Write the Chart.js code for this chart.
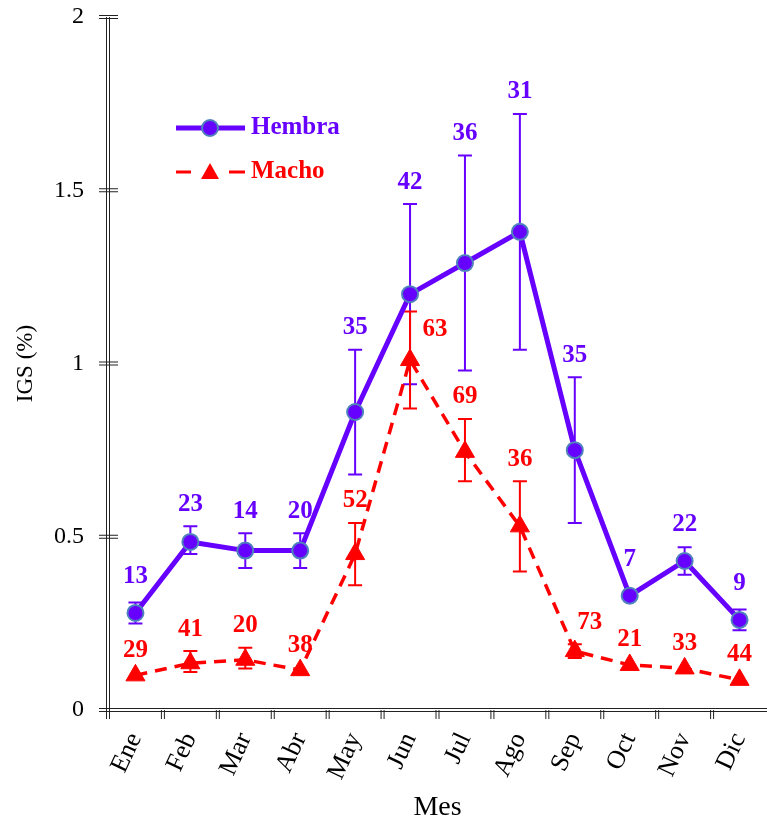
<!DOCTYPE html>
<html>
<head>
<meta charset="utf-8">
<script src="https://cdn.jsdelivr.net/npm/chart.js@4.4.0/dist/chart.umd.min.js"></script>
<style>
  html, body { margin: 0; padding: 0; background: #fff; }
  #wrap { width: 767px; height: 824px; }
</style>
</head>
<body>
<div id="wrap"><canvas id="igsChart" width="767" height="824"></canvas></div>
<script>
const meses = ['Ene', 'Feb', 'Mar', 'Abr', 'May', 'Jun', 'Jul', 'Ago', 'Sep', 'Oct', 'Nov', 'Dic'];
const yTicks = [0, 0.5, 1, 1.5, 2];

const hembra    = [0.28, 0.485, 0.46, 0.46, 0.86, 1.20, 1.29, 1.38, 0.75, 0.33, 0.43, 0.26];
const hembraMin = [0.25, 0.45, 0.41, 0.41, 0.68, 0.94, 0.98, 1.04, 0.54, null, 0.39, 0.23];
const hembraMax = [0.31, 0.53, 0.51, 0.51, 1.04, 1.46, 1.60, 1.72, 0.96, null, 0.47, 0.29];
const hembraN   = [13, 23, 14, 20, 35, 42, 36, 31, 35, 7, 22, 9];

const macho    = [0.10, 0.135, 0.145, 0.115, 0.45, 1.01, 0.745, 0.53, 0.17, 0.13, 0.12, 0.087];
const machoMin = [null, 0.11, 0.12, null, 0.36, 0.87, 0.66, 0.40, 0.15, null, null, null];
const machoMax = [null, 0.17, 0.18, null, 0.54, 1.15, 0.84, 0.66, 0.19, null, null, null];
const machoN   = [29, 41, 20, 38, 52, 63, 69, 36, 73, 21, 33, 44];

const MORADO = '#6600ff';
const ROJO = '#ff0000';
const SERIF = '"Liberation Serif", "Times New Roman", serif';

Chart.defaults.font.family = SERIF;
Chart.defaults.color = '#000';

// barras de error, debajo de los marcadores
const barrasError = {
    id: 'barrasError',
    beforeDatasetsDraw(chart) {
        const ctx = chart.ctx;
        const y = chart.scales.y;
        chart.data.datasets.forEach((ds, d) => {
            const meta = chart.getDatasetMeta(d);
            ctx.save();
            ctx.strokeStyle = ds.borderColor;
            ctx.lineWidth = 2;
            meta.data.forEach((pt, i) => {
                if (ds.errMin[i] == null) return;
                const y1 = y.getPixelForValue(ds.errMin[i]);
                const y2 = y.getPixelForValue(ds.errMax[i]);
                ctx.beginPath();
                ctx.moveTo(pt.x, y1); ctx.lineTo(pt.x, y2);
                ctx.moveTo(pt.x - 7, y1); ctx.lineTo(pt.x + 7, y1);
                ctx.moveTo(pt.x - 7, y2); ctx.lineTo(pt.x + 7, y2);
                ctx.stroke();
            });
            ctx.restore();
        });
    }
};

// numero de individuos encima de cada punto
const etiquetasN = {
    id: 'etiquetasN',
    afterDatasetsDraw(chart) {
        const ctx = chart.ctx;
        const y = chart.scales.y;
        const desplaz = { 1: { 5: { dx: 25, dy: -30 }, 8: { dx: 15 } } };
        chart.data.datasets.forEach((ds, d) => {
            const meta = chart.getDatasetMeta(d);
            const r = d === 0 ? 14 : 3;
            ctx.save();
            ctx.fillStyle = ds.borderColor;
            ctx.font = 'bold 25px ' + SERIF;
            ctx.textAlign = 'center';
            ctx.textBaseline = 'middle';
            meta.data.forEach((pt, i) => {
                let top = pt.y - r;
                if (ds.errMax[i] != null) top = Math.min(top, y.getPixelForValue(ds.errMax[i]));
                let ly = top - 22;
                let lx = pt.x;
                const s = desplaz[d] && desplaz[d][i];
                if (s) {
                    lx += s.dx;
                    if (s.dy != null) ly = pt.y + s.dy;
                }
                ctx.fillText(String(ds.nums[i]), lx, ly);
            });
            ctx.restore();
        });
    }
};

// ejes con linea doble
const ejesDobles = {
    id: 'ejesDobles',
    afterDraw(chart) {
        const ctx = chart.ctx;
        const a = chart.chartArea;
        const x = chart.scales.x;
        const y = chart.scales.y;
        ctx.save();
        ctx.strokeStyle = '#222';
        ctx.lineWidth = 1;
        ctx.beginPath();
        [-1.5, 1.5].forEach(o => {
            ctx.moveTo(a.left + o, a.top);
            ctx.lineTo(a.left + o, a.bottom + 9);
            ctx.moveTo(a.left - 9, a.bottom + o);
            ctx.lineTo(a.right, a.bottom + o);
        });
        y.ticks.forEach((t, i) => {
            const py = y.getPixelForTick(i);
            [-1.5, 1.5].forEach(o => {
                ctx.moveTo(a.left - 9, py + o);
                ctx.lineTo(a.left + 10, py + o);
            });
        });
        for (let i = 1; i < meses.length; i++) {
            const px = (x.getPixelForValue(i - 1) + x.getPixelForValue(i)) / 2;
            [-1.5, 1.5].forEach(o => {
                ctx.moveTo(px + o, a.bottom);
                ctx.lineTo(px + o, a.bottom + 9);
            });
        }
        ctx.stroke();
        ctx.restore();
    }
};

// leyenda dentro del area
const leyenda = {
    id: 'leyenda',
    afterDraw(chart) {
        const ctx = chart.ctx;
        ctx.save();
        ctx.lineCap = 'butt';
        ctx.strokeStyle = MORADO;
        ctx.lineWidth = 5;
        ctx.beginPath();
        ctx.moveTo(176, 128); ctx.lineTo(245, 128);
        ctx.stroke();
        ctx.beginPath();
        ctx.arc(210, 128, 8, 0, Math.PI * 2);
        ctx.fillStyle = MORADO;
        ctx.fill();
        ctx.lineWidth = 2;
        ctx.strokeStyle = '#4f81bd';
        ctx.stroke();

        ctx.strokeStyle = ROJO;
        ctx.lineWidth = 3;
        ctx.beginPath();
        ctx.moveTo(176, 172); ctx.lineTo(191, 172);
        ctx.moveTo(229, 172); ctx.lineTo(245, 172);
        ctx.stroke();
        ctx.fillStyle = ROJO;
        ctx.beginPath();
        ctx.moveTo(210, 163); ctx.lineTo(219, 179); ctx.lineTo(201, 179);
        ctx.closePath();
        ctx.fill();

        ctx.font = 'bold 25px ' + SERIF;
        ctx.textBaseline = 'middle';
        ctx.fillStyle = MORADO;
        ctx.fillText('Hembra', 251, 128);
        ctx.fillStyle = ROJO;
        ctx.fillText('Macho', 251, 172);
        ctx.restore();
    }
};

new Chart(document.getElementById('igsChart'), {
    type: 'line',
    data: {
        labels: meses,
        datasets: [
            {
                label: 'Hembra',
                data: hembra,
                errMin: hembraMin,
                errMax: hembraMax,
                nums: hembraN,
                borderColor: MORADO,
                borderWidth: 5,
                pointRadius: 8,
                pointBackgroundColor: MORADO,
                pointBorderColor: '#4f81bd',
                pointBorderWidth: 2,
                tension: 0,
                fill: false,
            },
            {
                label: 'Macho',
                data: macho,
                errMin: machoMin,
                errMax: machoMax,
                nums: machoN,
                borderColor: ROJO,
                borderWidth: 3.5,
                borderDash: [12, 8],
                pointStyle: 'triangle',
                pointRadius: 11,
                pointBackgroundColor: ROJO,
                pointBorderColor: ROJO,
                pointBorderWidth: 1,
                tension: 0,
                fill: false,
            },
        ],
    },
    options: {
        responsive: false,
        animation: false,
        events: [],
        layout: { autoPadding: false, padding: { top: 17, right: -5, bottom: 0, left: 0 } },
        plugins: {
            legend: { display: false },
            tooltip: { enabled: false },
        },
        scales: {
            x: {
                type: 'category',
                offset: true,
                grid: { display: false },
                border: { display: false },
                ticks: {
                    font: { size: 26 },
                    minRotation: 65,
                    maxRotation: 65,
                    padding: 10,
                    autoSkip: false,
                },
                title: { display: true, text: 'Mes', font: { size: 28 }, padding: { top: 0, bottom: 0 } },
                afterFit(s) { s.height = 114; s.paddingLeft = 0; s.paddingRight = 0; },
            },
            y: {
                min: 0,
                max: 2,
                afterBuildTicks(s) { s.ticks = yTicks.map(v => ({ value: v })); },
                grid: { display: false },
                border: { display: false },
                ticks: { font: { size: 24 }, padding: 16, callback: v => String(v) },
                title: { display: true, text: 'IGS (%)', font: { size: 23 }, padding: { top: 12, bottom: 0 } },
                afterFit(s) { s.width = 108; s.paddingTop = 0; s.paddingBottom = 0; },
            },
        },
    },
    plugins: [barrasError, etiquetasN, ejesDobles, leyenda],
});
</script>
</body>
</html>
